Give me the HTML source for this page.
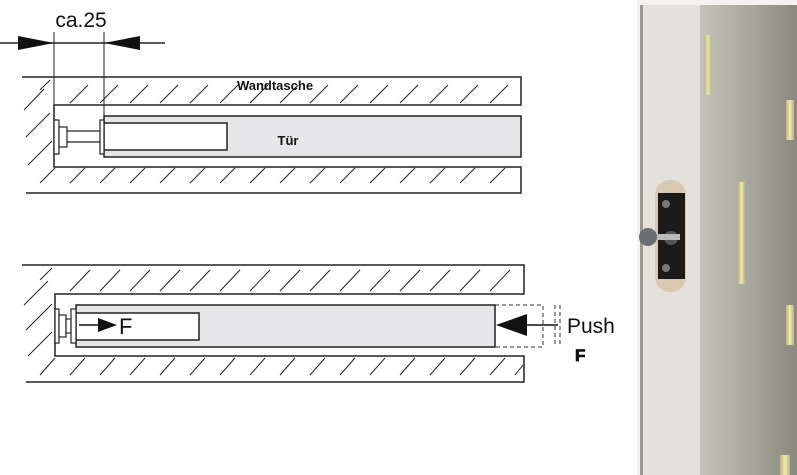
<!DOCTYPE html>
<html><head><style>body{margin:0;background:#fff}svg{display:block}</style></head><body>
<svg width="797" height="475" viewBox="0 0 797 475" xmlns="http://www.w3.org/2000/svg" font-family="Liberation Sans, sans-serif">
<defs>
<linearGradient id="dg" x1="0" x2="1" y1="0" y2="0"><stop offset="0" stop-color="#c4c3ba"/><stop offset="0.5" stop-color="#a9a89d"/><stop offset="1" stop-color="#8a897e"/></linearGradient>
<linearGradient id="yl" x1="0" x2="1"><stop offset="0" stop-color="#b8b38a"/><stop offset="0.5" stop-color="#f2e9a8"/><stop offset="1" stop-color="#b8b38a"/></linearGradient>
</defs>
<g stroke="#222" stroke-width="1.5" fill="none">
<line x1="0" y1="43" x2="165" y2="43"/>
<line x1="54" y1="32" x2="54" y2="167" stroke-width="1"/>
<line x1="104" y1="32" x2="104" y2="116" stroke-width="1"/>
</g>
<polygon points="18,36 54,43 18,50" fill="#111"/>
<polygon points="140,36 104,43 140,50" fill="#111"/>
<text x="81" y="27" font-size="21" text-anchor="middle" fill="#111">ca.25</text>

<g stroke="#222" stroke-width="1.5" fill="none">
<polyline points="22,77 521,77 521,105 54,105 54,167 521,167 521,193 26,193"/>
</g>
<rect x="104" y="116" width="417" height="41" fill="#e6e6e8" stroke="#222" stroke-width="1.5"/>
<rect x="104" y="123" width="123" height="27" fill="#fff" stroke="#222" stroke-width="1.5"/>
<g stroke="#222" stroke-width="1.2" fill="#fff">
<rect x="54" y="120" width="5" height="34"/><rect x="59" y="127" width="8" height="20"/>
<line x1="67" y1="131" x2="100" y2="131"/><line x1="67" y1="142" x2="100" y2="142"/>
<rect x="100" y="120" width="4" height="34"/>
</g>
<g stroke="#222" stroke-width="1">
<path d="M40,90 L50,80 M70,103 L88,85 M100,103 L118,85 M130,103 L148,85 M160,103 L178,85 M190,103 L208,85 M220,103 L238,85 M250,103 L268,85 M280,103 L298,85 M310,103 L328,85 M340,103 L358,85 M370,103 L388,85 M400,103 L418,85 M430,103 L448,85 M460,103 L478,85 M490,103 L508,85"/>
<path d="M24,110 L44,89 M26,137 L50,113 M28,165 L52,141"/>
<path d="M40,183 L55,168 M70,183 L85,168 M100,183 L115,168 M130,183 L145,168 M160,183 L175,168 M190,183 L205,168 M220,183 L235,168 M250,183 L265,168 M280,183 L295,168 M310,183 L325,168 M340,183 L355,168 M370,183 L385,168 M400,183 L415,168 M430,183 L445,168 M460,183 L475,168 M490,183 L505,168"/>
</g>
<text x="275" y="90" font-size="13" font-weight="bold" text-anchor="middle" fill="#111">Wandtasche</text>
<text x="288" y="145" font-size="13" font-weight="bold" text-anchor="middle" fill="#111">Tür</text>

<g stroke="#222" stroke-width="1.5" fill="none">
<polyline points="22,265 524,265 524,294 55,294 55,356 524,356 524,382 26,382"/>
</g>
<rect x="76" y="305" width="419" height="42" fill="#e6e6e8" stroke="#222" stroke-width="1.5"/>
<rect x="76" y="313" width="123" height="27" fill="#fff" stroke="#222" stroke-width="1.5"/>
<g stroke="#222" stroke-width="1.2" fill="#fff">
<rect x="55" y="309" width="4" height="34"/><rect x="59" y="315" width="7" height="22"/>
<rect x="66" y="319" width="5" height="14"/>
<rect x="71" y="309" width="5" height="34"/>
</g>
<line x1="79" y1="325" x2="100" y2="325" stroke="#111" stroke-width="1.5"/>
<polygon points="98,318 117,325 98,332" fill="#111"/>
<text x="119" y="334" font-size="22" fill="#111">F</text>
<g stroke="#222" stroke-width="1">
<path d="M40,280 L52,268 M70,291 L90,270 M100,291 L120,270 M130,291 L150,270 M160,291 L180,270 M190,291 L210,270 M220,291 L240,270 M250,291 L270,270 M280,291 L300,270 M310,291 L330,270 M340,291 L360,270 M370,291 L390,270 M400,291 L420,270 M430,291 L450,270 M460,291 L480,270 M490,291 L510,270"/>
<path d="M24,305 L48,281 M26,330 L52,304 M28,356 L52,332"/>
<path d="M40,375 L55,358 M70,375 L85,358 M100,375 L115,358 M130,375 L145,358 M160,375 L175,358 M190,375 L205,358 M220,375 L235,358 M250,375 L265,358 M280,375 L295,358 M310,375 L325,358 M340,375 L355,358 M370,375 L385,358 M400,375 L415,358 M430,375 L445,358 M460,375 L475,358 M490,375 L505,358 M515,375 L523,365"/>
</g>
<g stroke="#333" stroke-width="1" fill="none" stroke-dasharray="4,3">
<polyline points="495,305 543,305 543,347 495,347"/>
<line x1="555" y1="305" x2="555" y2="347"/><line x1="560" y1="305" x2="560" y2="347"/>
</g>
<line x1="525" y1="325" x2="558" y2="325" stroke="#111" stroke-width="1.5"/>
<polygon points="496,325 527,314 527,336" fill="#111"/>
<text x="567" y="333" font-size="21" fill="#111">Push</text>
<text x="575" y="361" font-size="17" font-weight="bold" fill="#111" stroke="#111" stroke-width="0.8">F</text>

<rect x="637" y="0" width="160" height="475" fill="#f4f3ef"/>
<rect x="640" y="5" width="62" height="470" fill="#e3e1da"/>
<rect x="640" y="5" width="3" height="470" fill="#9a9a90"/>
<rect x="700" y="5" width="97" height="470" fill="url(#dg)"/>
<rect x="704" y="35" width="8" height="60" fill="url(#yl)" opacity="0.8"/>
<rect x="786" y="100" width="8" height="40" fill="url(#yl)"/>
<rect x="738" y="182" width="7" height="102" fill="url(#yl)"/>
<rect x="786" y="305" width="8" height="40" fill="url(#yl)"/>
<rect x="780" y="455" width="10" height="20" fill="url(#yl)"/>
<rect x="655" y="180" width="31" height="112" rx="15" fill="#d9c9b0"/>
<rect x="658" y="193" width="27" height="86" fill="#1b1b1b"/>
<circle cx="671" cy="238" r="7" fill="#555"/>
<rect x="650" y="234" width="30" height="6" fill="#bbb"/>
<circle cx="648" cy="237" r="9" fill="#6b6f70"/>
<circle cx="666" cy="204" r="4" fill="#777"/><circle cx="666" cy="268" r="4" fill="#777"/>
</svg>
</body></html>
